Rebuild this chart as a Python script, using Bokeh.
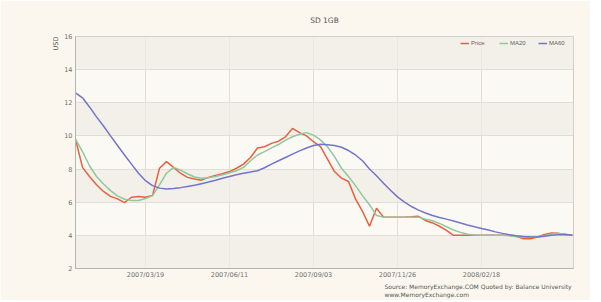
import pandas as pd
from bokeh.plotting import figure
from bokeh.models import (ColumnDataSource, FixedTicker, DatetimeTickFormatter, Title,
                          Legend, LegendItem, Range1d)
from bokeh.embed import file_html
from bokeh.resources import INLINE

# ---- data (weekly samples) ----
start_date = "2007-01-08"
n_weeks = 72
tick_labels = ["2007/03/19", "2007/06/11", "2007/09/03", "2007/11/26", "2008/02/18"]
y_ticks = [2, 4, 6, 8, 10, 12, 14, 16]

price = [9.8, 8.1, 7.55, 7.05, 6.65, 6.35, 6.2, 5.97, 6.3, 6.35,
         6.3, 6.4, 8.05, 8.45, 8.1, 7.75, 7.5, 7.4, 7.33, 7.5,
         7.62, 7.72, 7.85, 8.05, 8.3, 8.7, 9.27, 9.35, 9.55, 9.68,
         9.95, 10.45, 10.2, 10.0, 9.65, 9.35, 8.6, 7.85, 7.45, 7.25,
         6.2, 5.45, 4.55, 5.64, 5.1, 5.1, 5.1, 5.1, 5.12, 5.15,
         4.9, 4.75, 4.55, 4.3, 4.0, 4.0, 4.0, 4.0, 4.0, 4.0,
         4.0, 4.0, 4.0, 3.95, 3.8, 3.8, 3.9, 4.05, 4.14, 4.12,
         4.05, 4.0]
ma20 = [9.8, 9.05, 8.2, 7.55, 7.1, 6.7, 6.38, 6.18, 6.1, 6.1,
        6.22, 6.4, 7.05, 7.75, 8.1, 7.94, 7.72, 7.52, 7.45, 7.48,
        7.55, 7.65, 7.78, 7.9, 8.1, 8.5, 8.85, 9.05, 9.28, 9.48,
        9.75, 9.95, 10.1, 10.2, 10.05, 9.76, 9.35, 8.75, 8.05, 7.55,
        7.0, 6.4, 5.85, 5.2, 5.1, 5.1, 5.1, 5.1, 5.1, 5.1,
        4.98, 4.88, 4.72, 4.52, 4.32, 4.18, 4.07, 4.02, 4.0, 4.0,
        4.0, 4.0, 3.97, 3.92, 3.9, 3.88, 3.9, 3.98, 4.08, 4.12,
        4.06, 4.0]
ma60 = [12.6, 12.3, 11.75, 11.15, 10.6, 10.0, 9.42, 8.85, 8.3, 7.75,
        7.3, 7.0, 6.85, 6.8, 6.83, 6.88, 6.95, 7.02, 7.12, 7.22,
        7.33, 7.45, 7.55, 7.66, 7.75, 7.82, 7.9, 8.08, 8.3, 8.5,
        8.7, 8.9, 9.1, 9.27, 9.42, 9.5, 9.47, 9.42, 9.32, 9.12,
        8.85, 8.5, 8.0, 7.6, 7.15, 6.72, 6.32, 6.0, 5.74, 5.52,
        5.35, 5.2, 5.08, 4.98, 4.87, 4.75, 4.63, 4.52, 4.42, 4.32,
        4.21, 4.12, 4.04, 3.98, 3.93, 3.9, 3.9, 3.95, 4.0, 4.04,
        4.05, 4.0]

dates = pd.date_range(start_date, periods=n_weeks, freq="7D")
src = ColumnDataSource(dict(date=dates, price=price, ma20=ma20, ma60=ma60))

BG = "#fbf7ee"
x_start = pd.Timestamp(start_date)
x_end = x_start + pd.Timedelta(days=498)

p = figure(width=590, height=300, x_axis_type="datetime", output_backend="svg",
           toolbar_location=None, min_border_left=75, min_border_right=17,
           min_border_top=36, min_border_bottom=32,
           x_range=Range1d(x_start, x_end), y_range=Range1d(2, 16))
p.background_fill_color = "#fbf9f4"
p.border_fill_color = BG
p.outline_line_color = "#cfcbc3"
p.outline_line_width = 1

# title
p.title.text = "SD 1GB"
p.title.align = "center"
p.title.text_font = "DejaVu Sans"
p.title.text_font_size = "7.5px"
p.title.text_font_style = "normal"
p.title.text_color = "#555555"
p.title.standoff = 24

# grid
p.xgrid.grid_line_color = "#e2ded6"
p.ygrid.grid_line_color = "#e2ded6"
p.ygrid.ticker = FixedTicker(ticks=[y_ticks[0], y_ticks[0] + 1e-4] + y_ticks[1:])
p.ygrid.band_fill_color = "#f0ece4"
p.ygrid.band_fill_alpha = 0.7

# axes
tick_ms = [pd.Timestamp(t.replace("/", "-")).value / 1e6 for t in tick_labels]
p.xaxis.ticker = FixedTicker(ticks=tick_ms)
p.xaxis.formatter = DatetimeTickFormatter(days="%Y/%m/%d", months="%Y/%m/%d", years="%Y/%m/%d")
p.yaxis.ticker = FixedTicker(ticks=y_ticks)
for ax in (p.xaxis, p.yaxis):
    ax.axis_line_color = "#b8b4ac"
    ax.major_tick_line_color = None
    ax.minor_tick_line_color = None
    ax.major_tick_out = 0
    ax.major_tick_in = 0
    ax.minor_tick_out = 0
    ax.major_label_text_font_size = "6.5px"
    ax.major_label_text_color = "#707070"
    ax.major_label_text_font = "DejaVu Sans"
    ax.major_label_standoff = 3
p.xaxis.major_label_standoff = 2

r1 = p.line("date", "price", source=src, line_color="#e8603c", line_width=1.5)
r2 = p.line("date", "ma20", source=src, line_color="#8fc89f", line_width=1.5)
r3 = p.line("date", "ma60", source=src, line_color="#7474c8", line_width=1.5)

legend = Legend(items=[LegendItem(label="Price", renderers=[r1]),
                       LegendItem(label="MA20", renderers=[r2]),
                       LegendItem(label="MA60", renderers=[r3])],
                orientation="horizontal", location="top_right",
                label_text_font_size="6px", label_text_color="#606060",
                glyph_width=9, glyph_height=6, label_height=6, label_standoff=2,
                spacing=8, padding=2, margin=4,
                background_fill_alpha=0, border_line_color=None)
p.add_layout(legend, "center")

usd = Title(text="USD", align="right", text_font="DejaVu Sans", text_font_size="6.5px",
            text_font_style="normal", text_color="#555555", standoff=3)
p.add_layout(usd, "left")

source_note = Title(text="Source: MemoryExchange.COM  Quoted by: Balance University\nwww.MemoryExchange.com",
                    align="right", text_font="DejaVu Sans", text_font_size="6px",
                    text_font_style="normal", text_color="#555555", standoff=0,
                    text_line_height=1.15)
p.add_layout(source_note, "below")

open("out.html", "w").write(file_html(p, INLINE))
